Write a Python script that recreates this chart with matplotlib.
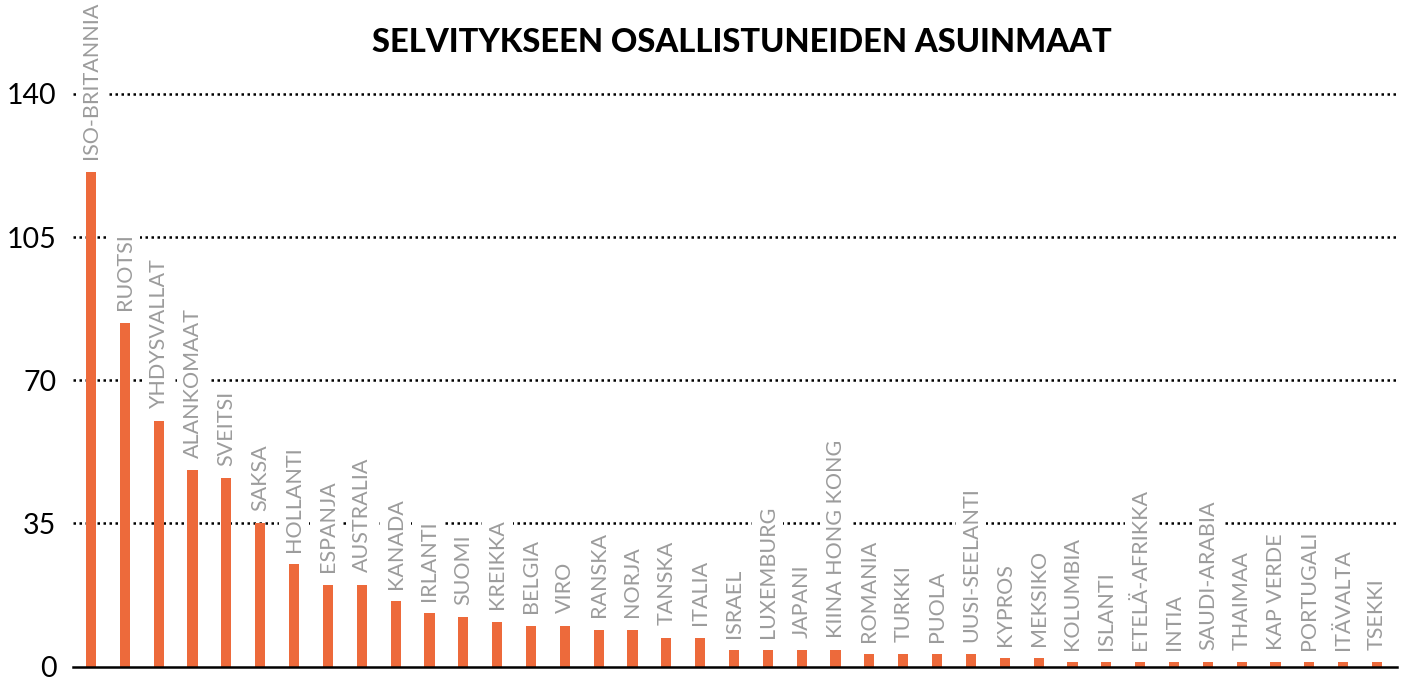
import matplotlib
matplotlib.use("Agg")
import matplotlib.pyplot as plt

countries = ["ISO-BRITANNIA", "RUOTSI", "YHDYSVALLAT", "ALANKOMAAT", "SVEITSI", "SAKSA",
             "HOLLANTI", "ESPANJA", "AUSTRALIA", "KANADA", "IRLANTI", "SUOMI", "KREIKKA",
             "BELGIA", "VIRO", "RANSKA", "NORJA", "TANSKA", "ITALIA", "ISRAEL", "LUXEMBURG",
             "JAPANI", "KIINA HONG KONG", "ROMANIA", "TURKKI", "PUOLA", "UUSI-SEELANTI",
             "KYPROS", "MEKSIKO", "KOLUMBIA", "ISLANTI", "ETELÄ-AFRIKKA", "INTIA",
             "SAUDI-ARABIA", "THAIMAA", "KAP VERDE", "PORTUGALI", "ITÄVALTA", "TSEKKI"]
counts = [121, 84, 60, 48, 46, 35, 25, 20, 20, 16, 13, 12, 11, 10, 10, 9, 9, 7, 7,
          4, 4, 4, 4, 3, 3, 3, 3, 2, 2, 1, 1, 1, 1, 1, 1, 1, 1, 1, 1]
yticks = [0, 35, 70, 105, 140]
title = "SELVITYKSEEN OSALLISTUNEIDEN ASUINMAAT"

BAR = "#ED6A3B"
W, H = 1409, 680
fig = plt.figure(figsize=(W / 100, H / 100), dpi=100)
left, right = 73 / W, 1397 / W
bottom, top = 1 - 666.5 / H, 1 - 94 / H
ax = fig.add_axes([left, bottom, right - left, top - bottom])

x = list(range(len(countries)))
ax.bar(x, counts, width=0.3, color=BAR, zorder=2)
ax.set_xlim(-0.532, len(countries) - 1 + 0.59)
ax.set_ylim(0, 140)

for yv in yticks[1:]:
    ax.axhline(yv, color="black", lw=1.8, linestyle=(0, (1, 1.4)), zorder=1,
               dash_capstyle="butt", clip_on=False)

for xi, (name, v) in enumerate(zip(countries, counts)):
    ax.annotate(name, (xi, v), xytext=(0, 9), textcoords="offset points",
                rotation=90, ha="center", va="bottom", fontsize=15.5,
                family=["Lato", "DejaVu Sans"], fontweight="normal", color="#9c9c9c",
                annotation_clip=False, zorder=3,
                bbox=dict(boxstyle="square,pad=0.25", fc="white", ec="none"))

ax.set_yticks(yticks)
ax.set_yticklabels([str(t) for t in yticks], family=["Lato", "DejaVu Sans"], fontsize=20.5)
ax.tick_params(axis="y", length=0, pad=12)
ax.set_xticks([])
for s in ["left", "right", "top"]:
    ax.spines[s].set_visible(False)
ax.spines["bottom"].set_linewidth(1.8)
ax.spines["bottom"].set_color("black")

fig.text(742 / W, 1 - 43 / H, title, ha="center", va="center",
         fontsize=23.5, fontweight="black", family=["Lato", "DejaVu Sans"])

fig.savefig("out.png", dpi=100)
